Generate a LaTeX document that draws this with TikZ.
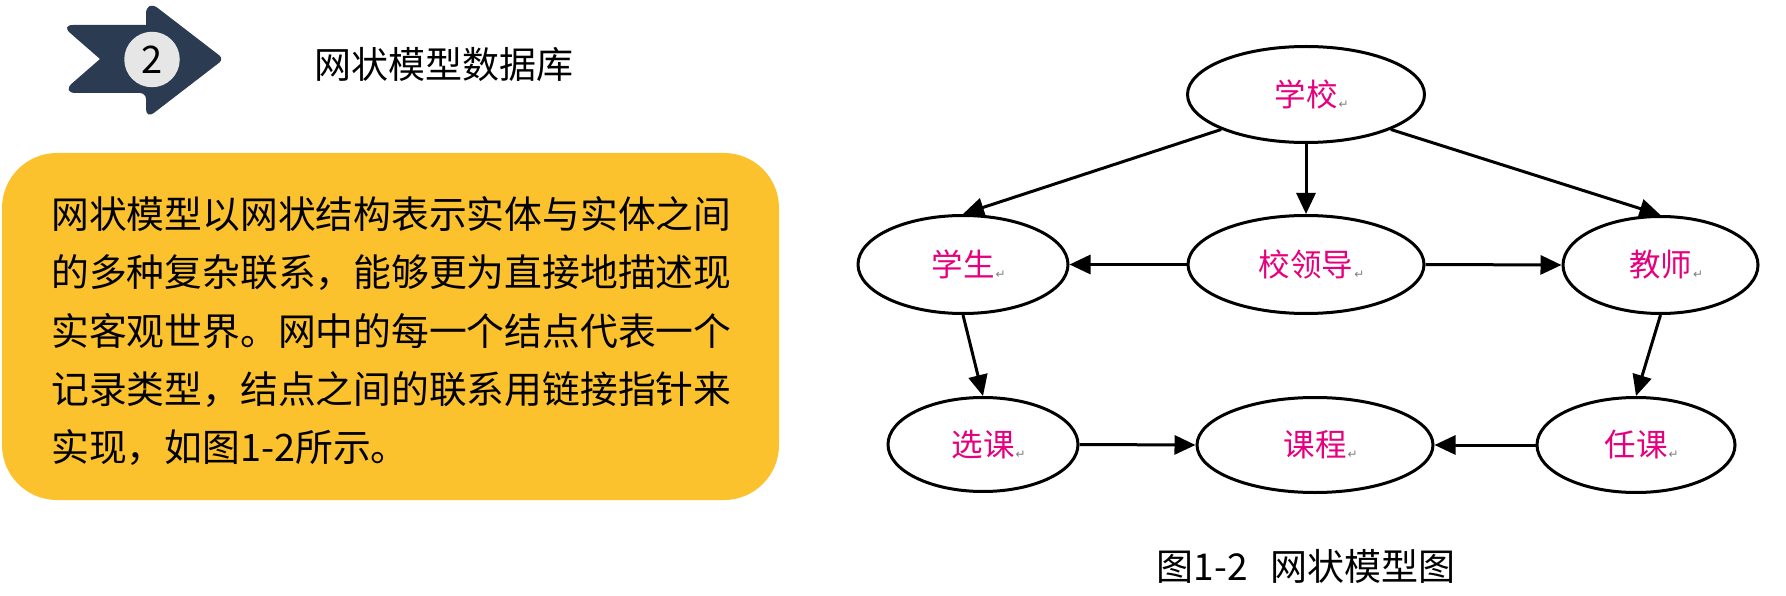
\documentclass[tikz,border=0pt]{standalone}
\usepackage{fontspec}
\newfontfamily\cjk{Noto Sans CJK SC}
\newfontfamily\dejavu{DejaVu Sans}
\usetikzlibrary{arrows.meta,shapes.geometric}
\definecolor{badgeblue}{RGB}{42,59,82}
\definecolor{boxyellow}{RGB}{252,194,45}
\definecolor{labelmag}{RGB}{230,0,126}
\definecolor{circgray}{RGB}{230,230,230}
\newcommand{\retmark}{\rlap{\kern1pt\raisebox{-2pt}{\dejavu\fontsize{12}{12}\selectfont\color{gray}↵}}}
\tikzset{
  ent/.style={ellipse, draw, line width=3pt, inner sep=0pt, fill=white,
    font=\cjk\fontsize{31.5}{31.5}\selectfont, text=labelmag},
  conn/.style={-{Triangle[length=21pt,width=19pt]}, line width=3pt},
  bodytext/.style={anchor=base west, inner sep=0pt, font=\cjk\fontsize{37.8}{37.8}\selectfont, text=black},
  titletext/.style={inner sep=0pt, font=\cjk\fontsize{37}{37}\selectfont, text=black}
}
\begin{document}
\begin{tikzpicture}[x=1pt,y=-1pt]
\useasboundingbox (0,0) rectangle (1786,596);
\fill[white] (0,0) rectangle (1786,596);
% badge
\fill[badgeblue] (61,25) -- (146,25) [rounded corners=15pt] -- (146,-1) [rounded corners=6pt] -- (224,59) [rounded corners=10pt] -- (146,119) [rounded corners=6pt] -- (146,93) [rounded corners=15pt] -- (61,93) [sharp corners] -- (100,59) [rounded corners=12pt] -- cycle;
\node[circle, fill=circgray, minimum size=55.5pt, inner sep=0pt, font=\cjk\fontsize{38}{38}\selectfont] (num) at (152,59.5) {2};
\node[titletext, anchor=base west] (title) at (314,79) {网状模型数据库};
% yellow box
\fill[boxyellow, rounded corners=55pt] (2,153) rectangle (779,500);
\node[bodytext] (l1) at (51,229) {网状模型以网状结构表示实体与实体之间};
\node[bodytext] (l2) at (51,287) {的多种复杂联系，能够更为直接地描述现};
\node[bodytext] (l3) at (51,345) {实客观世界。网中的每一个结点代表一个};
\node[bodytext] (l4) at (51,403) {记录类型，结点之间的联系用链接指针来};
\node[bodytext] (l5) at (51,461) {实现，如图1-2所示。};
% network
\node[ent, minimum width=237pt, minimum height=96pt] (xx) at (1306,94.5) {学校\retmark};
\node[ent, minimum width=210pt, minimum height=98pt] (xs) at (963,264.5) {学生\retmark};
\node[ent, minimum width=236pt, minimum height=98pt] (ld) at (1306,264.5) {校领导\retmark};
\node[ent, minimum width=195pt, minimum height=97pt] (js) at (1660.5,265) {教师\retmark};
\node[ent, minimum width=190pt, minimum height=94pt] (xk) at (983,444.5) {选课\retmark};
\node[ent, minimum width=236pt, minimum height=95pt] (kc) at (1315,445) {课程\retmark};
\node[ent, minimum width=198pt, minimum height=95pt] (rk) at (1636,445) {任课\retmark};
\draw[conn] (xx.south) -- (ld.north);
\draw[conn] (xx.south west) -- (xs.north);
\draw[conn] (xx.south east) -- (js.north);
\draw[conn] (ld.west) -- (xs.east);
\draw[conn] (ld.east) -- (js.west);
\draw[conn] (xs.south) -- (xk.north);
\draw[conn] (js.south) -- (rk.north);
\draw[conn] (xk.east) -- (kc.west);
\draw[conn] (rk.west) -- (kc.east);
\node[titletext] (cap) at (1306,566) {图1-2\hspace{0.6em}网状模型图};
\end{tikzpicture}
\end{document}
